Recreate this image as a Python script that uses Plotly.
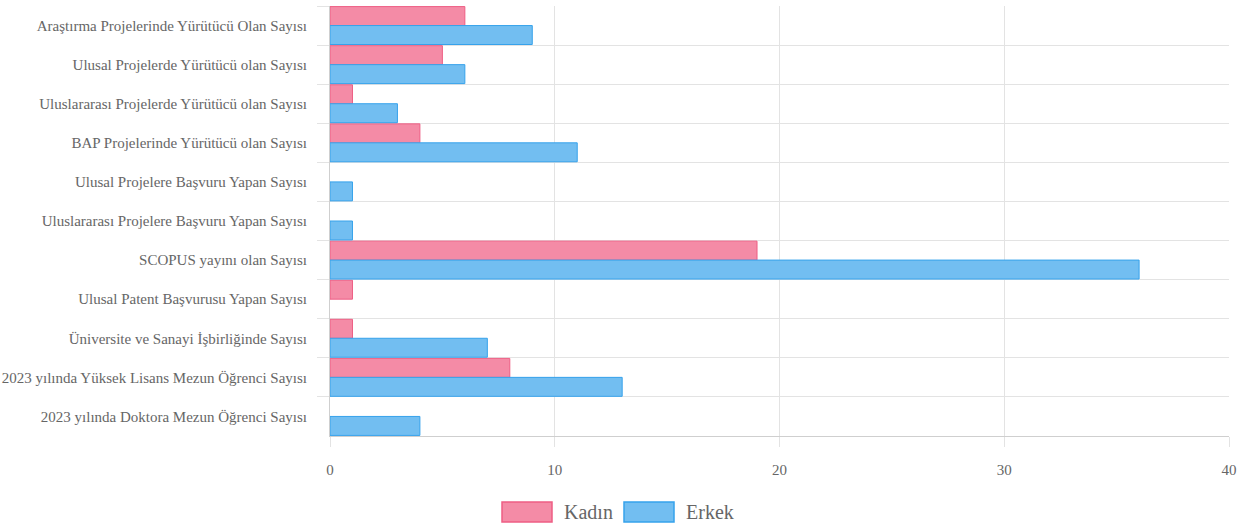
import plotly.graph_objects as go

categories = [
    "Araştırma Projelerinde Yürütücü Olan Sayısı",
    "Ulusal Projelerde Yürütücü olan Sayısı",
    "Uluslararası Projelerde Yürütücü olan Sayısı",
    "BAP Projelerinde Yürütücü olan Sayısı",
    "Ulusal Projelere Başvuru Yapan Sayısı",
    "Uluslararası Projelere Başvuru Yapan Sayısı",
    "SCOPUS yayını olan Sayısı",
    "Ulusal Patent Başvurusu Yapan Sayısı",
    "Üniversite ve Sanayi İşbirliğinde Sayısı",
    "2023 yılında Yüksek Lisans Mezun Öğrenci Sayısı",
    "2023 yılında Doktora Mezun Öğrenci Sayısı",
]
kadin = [6, 5, 1, 4, 0, 0, 19, 1, 1, 8, 0]
erkek = [9, 6, 3, 11, 1, 1, 36, 0, 7, 13, 4]
series_names = ["Kadın", "Erkek"]

pink_fill, pink_line = "#F48BA6", "#EE5E84"
blue_fill, blue_line = "#72BEF1", "#36A2EB"

FONT = "Liberation Serif, Times New Roman, serif"
GRID = "#E3E3E3"

def nz(vals):
    # zero-length bars are not drawn in the reference
    return [v if v else None for v in vals]

fig = go.Figure()
fig.add_trace(go.Bar(y=categories, x=nz(kadin), name=series_names[0], orientation="h",
                     marker=dict(color=pink_fill, line=dict(color=pink_line, width=1)),
                     showlegend=False))
fig.add_trace(go.Bar(y=categories, x=nz(erkek), name=series_names[1], orientation="h",
                     marker=dict(color=blue_fill, line=dict(color=blue_line, width=1)),
                     showlegend=False))

W, H = 1250, 527
pl, pr, pt, pb = 330, 21, 6, 91

fig.update_layout(
    width=W, height=H,
    margin=dict(l=pl, r=pr, t=pt, b=pb, autoexpand=False),
    paper_bgcolor="white", plot_bgcolor="white",
    barmode="group", bargap=0.03, bargroupgap=0,
    font=dict(family=FONT, size=15, color="#666666"),
    xaxis=dict(range=[0, 40], dtick=10, showgrid=True, gridcolor=GRID, gridwidth=1,
               zeroline=False, showline=True, linecolor="#CFCFCF", linewidth=1,
               ticks="outside", ticklen=10, tickcolor=GRID, ticklabelstandoff=10,
               automargin=False,
               tickfont=dict(family=FONT, size=15, color="#666666")),
    yaxis=dict(autorange="reversed", type="category", tickson="boundaries",
               showgrid=True, gridcolor=GRID, gridwidth=1,
               showline=True, linecolor="#CFCFCF", linewidth=1,
               ticks="outside", ticklen=12, tickcolor=GRID, ticklabelstandoff=19,
               automargin=False,
               tickfont=dict(family=FONT, size=15, color="#666666")),
    hovermode="closest",
)

pw, ph = W - pl - pr, H - pt - pb
def px_to_paper_x(px):
    return (px - pl) / pw
def px_to_paper_y(py):
    return (H - pb - py) / ph

legend_items = [(series_names[0], pink_fill, pink_line, 502, 562),
                (series_names[1], blue_fill, blue_line, 624, 684)]
for name, fill, line, bx, tx in legend_items:
    fig.add_shape(type="rect", xref="paper", yref="paper",
                  x0=px_to_paper_x(bx), x1=px_to_paper_x(bx + 50),
                  y0=px_to_paper_y(522), y1=px_to_paper_y(502),
                  fillcolor=fill, line=dict(color=line, width=1.5))
    fig.add_annotation(xref="paper", yref="paper", x=px_to_paper_x(tx), y=px_to_paper_y(512),
                       text=name, showarrow=False, xanchor="left", yanchor="middle",
                       font=dict(family=FONT, size=20, color="#666666"))

fig.write_html("out.html", config={"displayModeBar": False},
               post_script="document.body.style.margin='0';document.body.style.overflow='hidden';")
